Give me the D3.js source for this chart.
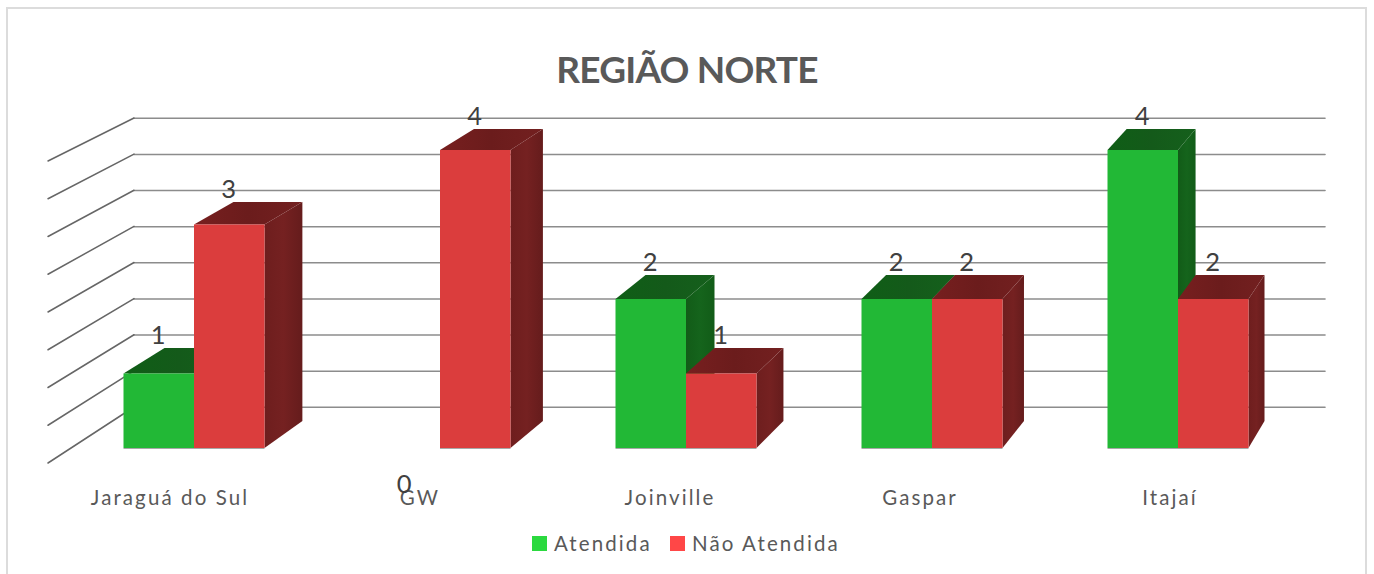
<!DOCTYPE html>
<html><head><meta charset="utf-8">
<script src="https://cdnjs.cloudflare.com/ajax/libs/d3/7.8.5/d3.min.js"></script>
<style>html,body{margin:0;padding:0;background:#fff;overflow:hidden}svg{display:block}text{font-family:Lato,"Open Sans",sans-serif}</style>
</head><body><svg id="c" width="1374" height="574"></svg>
<script>
const categories = ["Jaraguá do Sul","GW","Joinville","Gaspar","Itajaí"];
const seriesNames = ["Atendida","Não Atendida"];
const atendida = [1,0,2,2,4];
const naoAtendida = [3,4,1,2,2];
const gridTicks = [0,0.5,1,1.5,2,2.5,3,3.5,4];
const chartTitle = "REGIÃO NORTE";

const svg = d3.select("#c");
const defs = svg.append("defs");
function grad(id, stops){
  const g = defs.append("linearGradient").attr("id",id).attr("x1",0).attr("x2",1).attr("y1",0).attr("y2",0);
  stops.forEach((c,i)=>g.append("stop").attr("offset",i/(stops.length-1)).attr("stop-color",c));
}
grad("redSide",["#6e1e1e","#752121","#651c1c"]);
grad("redTop",["#771f1f","#6b1c1c","#732020"]);
grad("greenSide",["#125c18","#15641c","#125c18"]);
grad("greenTop",["#0f5e16","#145a1a","#15601c"]);

svg.append("rect").attr("x",7).attr("y",8).attr("width",1359).attr("height",600)
  .attr("fill","#fff").attr("stroke","#dcdcdc").attr("stroke-width",2);

// scales
const xCat = d3.scaleBand().domain(categories).range([71,1301]);
const xSer = d3.scaleBand().domain(seriesNames).range([-70.5,70.5]);
const xLabel = d3.scaleBand().domain(categories).range([45,1295]);
const yFront = d3.scaleLinear().domain([0,4]).range([448,150]);
const yBack = d3.scaleLinear().domain([0,4]).range([421,129]);
const depth = d3.scaleLinear().domain([124,1249]).range([41,16]);
const wallBack = d3.scaleLinear().domain([0,4]).range([407,118]);
const wallFront = d3.scaleLinear().domain([0,4]).range([463,161]);
const wallX = {front:48, back:134, right:1325};

// walls
const grid = svg.append("g").attr("fill","none").attr("stroke-linecap","round");
grid.selectAll("path.h").data(gridTicks).join("path").attr("class","h")
  .attr("d",t=>d3.line()([[wallX.back,wallBack(t)+0.3],[wallX.right,wallBack(t)+0.3]]))
  .attr("stroke","#8c8c8c").attr("stroke-width",1.6);
grid.selectAll("path.d").data(gridTicks).join("path").attr("class","d")
  .attr("d",t=>d3.line()([[wallX.front,wallFront(t)],[wallX.back,wallBack(t)]]))
  .attr("stroke","#666666").attr("stroke-width",1.5);

// bars
const palette = {
  "Atendida":{front:"#22b836",top:"url(#greenTop)",side:"url(#greenSide)"},
  "Não Atendida":{front:"#db3d3d",top:"url(#redTop)",side:"url(#redSide)"}
};
const values = {"Atendida":atendida,"Não Atendida":naoAtendida};
const line = d3.line();
const labels = [];
categories.forEach((cat,i)=>{
  const cx = xCat(cat)+xCat.bandwidth()/2;
  seriesNames.forEach(s=>{
    const v = values[s][i];
    const x0 = cx+xSer(s), x1 = x0+xSer.bandwidth();
    labels.push({v, x:(x0+x1)/2});
    if(v<=0) return;
    const g = svg.append("g");
    const X0 = x0+depth(x0), X1 = x1+depth(x1);
    g.append("path").attr("fill",palette[s].side)
      .attr("d",line([[x1,yFront(v)],[X1,yBack(v)],[X1,yBack(0)],[x1,yFront(0)]])+"Z");
    g.append("path").attr("fill",palette[s].top)
      .attr("d",line([[x0,yFront(v)],[X0,yBack(v)],[X1,yBack(v)],[x1,yFront(v)]])+"Z");
    g.append("rect").attr("x",x0).attr("y",yFront(v))
      .attr("width",x1-x0).attr("height",yFront(0)-yFront(v))
      .attr("fill",palette[s].front);
    g.append("path").attr("fill","none").attr("stroke","#a8a8a8").attr("stroke-width",1)
      .attr("d",line([[x0,yFront(0)+0.5],[x1,yFront(0)+0.5]]));
  });
});

// category labels
svg.append("g").selectAll("text").data(categories).join("text")
  .attr("x",c=>xLabel(c)+xLabel.bandwidth()/2).attr("y",505)
  .attr("text-anchor","middle").attr("font-size",20.5).attr("letter-spacing",2.1)
  .attr("fill","#595959").text(c=>c);

// data labels
svg.append("g").selectAll("text").data(labels).join("text")
  .attr("x",d=>d.x-0.5).attr("y",d=>d.v>0?yBack(d.v)-4:493)
  .attr("text-anchor","middle").attr("font-size",25.5).attr("fill","#404040").text(d=>d.v);

// title
svg.append("text").attr("x",687).attr("y",83).attr("text-anchor","middle")
  .attr("font-size",37).attr("letter-spacing",-0.8).attr("font-weight",700).attr("fill","#595959").text(chartTitle);

// legend
const legendColors = ["#2bd93f","#ff4747"];
const legendX = d3.scaleOrdinal().domain(seriesNames).range([532,670]);
const lg = svg.append("g").selectAll("g").data(seriesNames).join("g")
  .attr("transform",s=>`translate(${legendX(s)},536)`);
lg.append("rect").attr("width",15).attr("height",15).attr("fill",(s,i)=>legendColors[i]);
lg.append("text").attr("x",22).attr("y",15).attr("font-size",20.5).attr("letter-spacing",2.1)
  .attr("fill","#595959").text(s=>s);
</script></body></html>
